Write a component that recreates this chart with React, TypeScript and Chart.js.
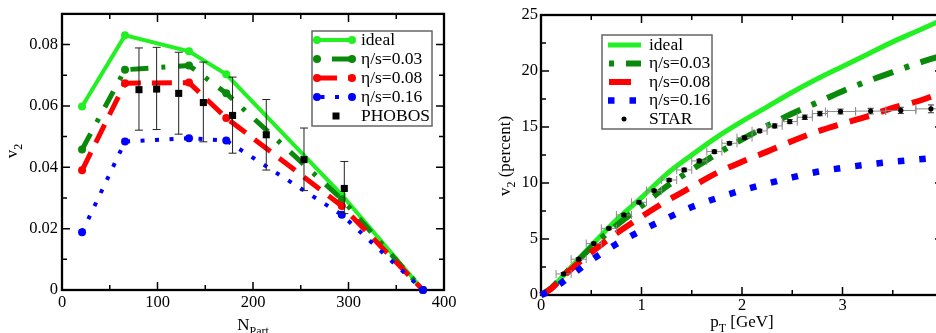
import React, { useEffect, useRef } from 'react';
import { Chart, registerables } from 'chart.js';

Chart.register(...registerables);

// ---------------- Left panel: v2 vs N_Part ----------------
const nPart = [21, 66, 133, 172, 293, 378];
const v2Ideal = [0.0598, 0.083, 0.0778, 0.0703, 0.031, 0];
const v2Eta003 = [0.0458, 0.0718, 0.0732, 0.0641, 0.0296, 0];
const v2Eta008 = [0.039, 0.0674, 0.0676, 0.0561, 0.0274, 0];
const v2Eta016 = [0.0188, 0.0484, 0.0495, 0.0487, 0.0245, 0];
const phobosN = [80.6, 99.1, 122.2, 148, 178.6, 213.9, 253.4, 295.6];
const phobosV2 = [0.0653, 0.0655, 0.0641, 0.0611, 0.0569, 0.0506, 0.0425, 0.0331];
const phobosHigh = [0.0789, 0.0791, 0.0775, 0.0743, 0.0694, 0.0621, 0.0528, 0.0419];
const phobosLow = [0.0521, 0.0523, 0.0508, 0.0483, 0.0446, 0.0391, 0.0324, 0.0249];
const leftLabels = ['ideal', 'η/s=0.03', 'η/s=0.08', 'η/s=0.16', 'PHOBOS'];

// ---------------- Right panel: v2 (percent) vs pT ----------------
const pT = [0, 0.1, 0.25, 0.5, 0.75, 1, 1.25, 1.5, 1.75, 2, 2.25, 2.5, 2.75, 3, 3.25, 3.5, 3.75, 4];
const v2pIdeal = [0, 0.6, 2.0, 4.4, 6.7, 8.7, 10.8, 12.5, 14.1, 15.5, 16.8, 18.1, 19.3, 20.4, 21.5, 22.6, 23.6, 24.6];
const v2pEta003 = [0, 0.6, 2.0, 4.25, 6.2, 7.95, 9.7, 11.2, 12.6, 13.9, 15.1, 16.2, 17.2, 18.2, 19.1, 19.9, 20.7, 21.4];
const v2pEta008 = [0, 0.55, 1.9, 3.8, 5.5, 7.0, 8.4, 9.65, 10.9, 11.9, 12.8, 13.75, 14.6, 15.3, 15.95, 16.7, 17.3, 18.1];
const v2pEta016 = [0, 0.4, 1.4, 3.1, 4.55, 5.75, 6.85, 7.85, 8.65, 9.35, 9.95, 10.5, 11.0, 11.35, 11.65, 11.9, 12.1, 12.3];
const starPt = [0.225, 0.375, 0.525, 0.675, 0.825, 0.975, 1.125, 1.275, 1.425, 1.575, 1.725, 1.875, 2.025, 2.175, 2.325, 2.475, 2.625, 2.775, 2.98, 3.28, 3.58, 3.88];
const starV2 = [1.88, 3.2, 4.6, 5.95, 7.15, 8.28, 9.32, 10.27, 11.17, 11.97, 12.8, 13.55, 14.05, 14.65, 15.1, 15.48, 15.87, 16.2, 16.38, 16.42, 16.48, 16.62];
const starPtErr = [0.075, 0.075, 0.075, 0.075, 0.075, 0.075, 0.075, 0.075, 0.075, 0.075, 0.075, 0.075, 0.075, 0.075, 0.075, 0.075, 0.075, 0.075, 0.15, 0.15, 0.15, 0.15];
const starV2Err = [0.12, 0.12, 0.12, 0.12, 0.12, 0.12, 0.12, 0.12, 0.15, 0.15, 0.15, 0.15, 0.15, 0.15, 0.18, 0.18, 0.2, 0.2, 0.22, 0.25, 0.28, 0.35];
const rightLabels = ['ideal', 'η/s=0.03', 'η/s=0.08', 'η/s=0.16', 'STAR'];

const FONT = '"Liberation Serif", serif';
const GREEN = '#22f022';
const DKGREEN = '#0a8a0a';
const RED = '#ff0000';
const BLUE = '#0000ff';

Chart.defaults.font.family = FONT;
Chart.defaults.font.size = 16;
Chart.defaults.color = '#000';

const pts = (xs: number[], ys: number[]) => xs.map((x, i) => ({ x, y: ys[i] }));

function frameTicksPlugin(id: string) {
  return {
    id,
    beforeDatasetsDraw(chart: any) {
      const { ctx, chartArea: a } = chart;
      const xs = chart.scales.x;
      const ys = chart.scales.y;
      ctx.save();
      ctx.strokeStyle = '#000';
      ctx.lineWidth = 1.5;
      ctx.beginPath();
      for (const t of xs.ticks) {
        const p = xs.getPixelForValue(t.value);
        if (p < a.left + 2 || p > a.right - 2) continue;
        const L = t.label !== '' ? 8 : 5;
        ctx.moveTo(p, a.bottom);
        ctx.lineTo(p, a.bottom - L);
        ctx.moveTo(p, a.top);
        ctx.lineTo(p, a.top + L);
      }
      for (const t of ys.ticks) {
        const p = ys.getPixelForValue(t.value);
        if (p < a.top + 2 || p > a.bottom - 2) continue;
        const L = t.label !== '' ? 8 : 5;
        ctx.moveTo(a.left, p);
        ctx.lineTo(a.left + L, p);
        ctx.moveTo(a.right, p);
        ctx.lineTo(a.right - L, p);
      }
      ctx.stroke();
      ctx.lineWidth = 2.3;
      ctx.strokeRect(a.left, a.top, a.right - a.left, a.bottom - a.top);
      ctx.restore();
    },
  };
}

type Part = { t: string; sub?: boolean };
function drawTitle(ctx: CanvasRenderingContext2D, parts: Part[], x: number, y: number, rotate: boolean) {
  ctx.save();
  ctx.translate(x, y);
  if (rotate) ctx.rotate(-Math.PI / 2);
  const big = `17px ${FONT}`;
  const small = `12px ${FONT}`;
  let w = 0;
  parts.forEach((p) => {
    ctx.font = p.sub ? small : big;
    w += ctx.measureText(p.t).width;
  });
  let cx = -w / 2;
  ctx.fillStyle = '#000';
  ctx.textAlign = 'left';
  ctx.textBaseline = 'alphabetic';
  parts.forEach((p) => {
    ctx.font = p.sub ? small : big;
    ctx.fillText(p.t, cx, p.sub ? 5 : 0);
    cx += ctx.measureText(p.t).width;
  });
  ctx.restore();
}

type LegItem = {
  text: string;
  color: string;
  width: number;
  dash: number[];
  offset: number;
  x0: number;
  x1: number;
  y: number;
  line: boolean;
  circles?: boolean;
  square?: number;
  dot?: number;
};

function drawLegend(ctx: CanvasRenderingContext2D, box: number[], items: LegItem[], textX: number) {
  ctx.save();
  ctx.fillStyle = '#fff';
  ctx.fillRect(box[0], box[1], box[2] - box[0], box[3] - box[1]);
  ctx.strokeStyle = '#666';
  ctx.lineWidth = 1.5;
  ctx.strokeRect(box[0], box[1], box[2] - box[0], box[3] - box[1]);
  for (const it of items) {
    if (it.line) {
      ctx.save();
      ctx.strokeStyle = it.color;
      ctx.lineWidth = it.width;
      ctx.lineCap = 'butt';
      ctx.setLineDash(it.dash);
      ctx.lineDashOffset = it.offset;
      ctx.beginPath();
      ctx.moveTo(it.x0, it.y);
      ctx.lineTo(it.x1, it.y);
      ctx.stroke();
      ctx.restore();
    }
    ctx.fillStyle = it.color;
    if (it.circles) {
      for (const cx of [it.x0, it.x1]) {
        ctx.beginPath();
        ctx.arc(cx, it.y, 4, 0, Math.PI * 2);
        ctx.fill();
      }
    }
    if (it.square !== undefined) {
      ctx.fillRect(it.square - 3.5, it.y - 3.5, 7, 7);
    }
    if (it.dot !== undefined) {
      ctx.beginPath();
      ctx.arc(it.dot, it.y, 2.5, 0, Math.PI * 2);
      ctx.fill();
    }
    ctx.fillStyle = '#000';
    ctx.font = `17.5px ${FONT}`;
    ctx.textAlign = 'left';
    ctx.textBaseline = 'middle';
    ctx.fillText(it.text, textX, it.y);
  }
  ctx.restore();
}

function lineDs(label: string, data: any[], color: string, width: number, dash: number[], order: number, radius: number, smooth: boolean) {
  return {
    type: 'line',
    label,
    data,
    borderColor: color,
    backgroundColor: color,
    borderWidth: width,
    borderDash: dash,
    borderCapStyle: 'butt',
    pointRadius: radius,
    pointHoverRadius: radius,
    pointBackgroundColor: color,
    pointBorderWidth: 0,
    pointStyle: 'circle',
    tension: 0,
    cubicInterpolationMode: smooth ? 'monotone' : 'default',
    fill: false,
    clip: false,
    order,
  };
}

function scaleOpts(min: number, max: number, step: number, isMajor: (v: number) => boolean, fmt: (v: number) => string, padding: number, fit: (s: any) => void) {
  return {
    type: 'linear',
    min,
    max,
    grid: { display: false, drawTicks: false },
    border: { display: false },
    ticks: {
      stepSize: step,
      autoSkip: false,
      maxRotation: 0,
      padding,
      color: '#000',
      font: { family: FONT, size: 16.5 },
      callback: (v: any) => (isMajor(Number(v)) ? fmt(Number(v)) : ''),
    },
    afterFit: fit,
  };
}

function leftConfig(): any {
  const phobosIdx = 4;
  return {
    type: 'line',
    data: {
      datasets: [
        lineDs(leftLabels[0], pts(nPart, v2Ideal), GREEN, 4, [], 5, 4, false),
        lineDs(leftLabels[1], pts(nPart, v2Eta003), DKGREEN, 5, [18, 13, 4, 13], 4, 4, false),
        lineDs(leftLabels[2], pts(nPart, v2Eta008), RED, 5, [20, 11], 3, 4, false),
        lineDs(leftLabels[3], pts(nPart, v2Eta016), BLUE, 4, [4, 10.5], 2, 4, false),
        {
          type: 'line',
          label: leftLabels[4],
          data: pts(phobosN, phobosV2),
          showLine: false,
          pointStyle: 'rect',
          pointRadius: 5,
          pointHoverRadius: 5,
          pointBackgroundColor: '#000',
          pointBorderWidth: 0,
          borderColor: '#000',
          backgroundColor: '#000',
          clip: false,
          order: 1,
        },
      ],
    },
    options: {
      responsive: false,
      maintainAspectRatio: false,
      animation: false,
      events: [],
      font: { family: FONT, size: 16 },
      layout: { padding: { left: 0, top: 11, right: 26, bottom: 0 } },
      plugins: { legend: { display: false }, tooltip: { enabled: false } },
      scales: {
        x: scaleOpts(0, 400, 50, (v) => Math.round(v) % 100 === 0, (v) => String(Math.round(v)), 3, (s: any) => {
          s.height = 43;
        }),
        y: scaleOpts(0, 0.09, 0.01, (v) => Math.round(v * 100) % 2 === 0, (v) => (Math.abs(v) < 1e-9 ? '0' : v.toFixed(2)), 4, (s: any) => {
          s.width = 62;
        }),
      },
    },
    plugins: [
      frameTicksPlugin('leftFrame'),
      {
        id: 'phobosErr',
        beforeDatasetDraw(chart: any, args: any) {
          if (args.index !== phobosIdx) return;
          const { ctx } = chart;
          const xs = chart.scales.x;
          const ys = chart.scales.y;
          ctx.save();
          ctx.strokeStyle = '#222';
          ctx.lineWidth = 1;
          ctx.beginPath();
          phobosN.forEach((n, i) => {
            const px = xs.getPixelForValue(n);
            const hi = ys.getPixelForValue(phobosHigh[i]);
            const lo = ys.getPixelForValue(phobosLow[i]);
            ctx.moveTo(px, hi);
            ctx.lineTo(px, lo);
            ctx.moveTo(px - 4, hi);
            ctx.lineTo(px + 4, hi);
            ctx.moveTo(px - 4, lo);
            ctx.lineTo(px + 4, lo);
          });
          ctx.stroke();
          ctx.restore();
        },
      },
      {
        id: 'leftDecor',
        afterDraw(chart: any) {
          const { ctx } = chart;
          drawTitle(ctx, [{ t: 'v' }, { t: '2', sub: true }], 17, 151, true);
          drawTitle(ctx, [{ t: 'N' }, { t: 'Part', sub: true }], 253, 330, false);
          const x0 = 317;
          const x1 = 352;
          drawLegend(
            ctx,
            [312, 31, 432, 126],
            [
              { text: leftLabels[0], color: GREEN, width: 4, dash: [], offset: 0, x0, x1, y: 40, line: true, circles: true },
              { text: leftLabels[1], color: DKGREEN, width: 5, dash: [18, 13, 4, 13], offset: 33, x0, x1, y: 59, line: true, circles: true },
              { text: leftLabels[2], color: RED, width: 5, dash: [20, 11], offset: 0, x0, x1, y: 78, line: true, circles: true },
              { text: leftLabels[3], color: BLUE, width: 4, dash: [4, 10.5], offset: 11, x0, x1, y: 97, line: true, circles: true },
              { text: leftLabels[4], color: '#000', width: 0, dash: [], offset: 0, x0, x1, y: 116, line: false, square: 336 },
            ],
            361
          );
        },
      },
    ],
  };
}

function rightConfig(): any {
  const starIdx = 4;
  return {
    type: 'line',
    data: {
      datasets: [
        lineDs(rightLabels[0], pts(pT, v2pIdeal), GREEN, 5, [], 5, 0, true),
        lineDs(rightLabels[1], pts(pT, v2pEta003), DKGREEN, 6, [21, 12, 5, 12], 4, 0, true),
        lineDs(rightLabels[2], pts(pT, v2pEta008), RED, 6, [20, 12.5], 3, 0, true),
        lineDs(rightLabels[3], pts(pT, v2pEta016), BLUE, 6.5, [6.5, 15], 2, 0, true),
        {
          type: 'line',
          label: rightLabels[4],
          data: pts(starPt, starV2),
          showLine: false,
          pointStyle: 'circle',
          pointRadius: 2.6,
          pointHoverRadius: 2.6,
          pointBackgroundColor: '#000',
          pointBorderWidth: 0,
          borderColor: '#000',
          backgroundColor: '#000',
          clip: false,
          order: 1,
        },
      ],
    },
    options: {
      responsive: false,
      maintainAspectRatio: false,
      animation: false,
      events: [],
      font: { family: FONT, size: 16 },
      layout: { padding: { left: 0, top: 15, right: 17, bottom: 0 } },
      plugins: { legend: { display: false }, tooltip: { enabled: false } },
      scales: {
        x: scaleOpts(0, 4, 0.5, (v) => Math.abs(v - Math.round(v)) < 1e-6, (v) => String(Math.round(v)), 1, (s: any) => {
          s.height = 38;
        }),
        y: scaleOpts(0, 25, 2.5, (v) => Math.abs(v / 5 - Math.round(v / 5)) < 1e-6, (v) => String(Math.round(v)), 3, (s: any) => {
          s.width = 71;
        }),
      },
    },
    plugins: [
      frameTicksPlugin('rightFrame'),
      {
        id: 'starErr',
        beforeDatasetDraw(chart: any, args: any) {
          if (args.index !== starIdx) return;
          const { ctx } = chart;
          const xs = chart.scales.x;
          const ys = chart.scales.y;
          ctx.save();
          ctx.lineWidth = 1;
          ctx.strokeStyle = '#8a8a8a';
          ctx.beginPath();
          starPt.forEach((p, i) => {
            const y = ys.getPixelForValue(starV2[i]);
            const l = xs.getPixelForValue(p - starPtErr[i]);
            const r = xs.getPixelForValue(p + starPtErr[i]);
            ctx.moveTo(l, y);
            ctx.lineTo(r, y);
            ctx.moveTo(l, y - 4);
            ctx.lineTo(l, y + 4);
            ctx.moveTo(r, y - 4);
            ctx.lineTo(r, y + 4);
          });
          ctx.stroke();
          ctx.strokeStyle = '#333';
          ctx.beginPath();
          starPt.forEach((p, i) => {
            const x = xs.getPixelForValue(p);
            const hi = ys.getPixelForValue(starV2[i] + starV2Err[i]);
            const lo = ys.getPixelForValue(starV2[i] - starV2Err[i]);
            ctx.moveTo(x, hi);
            ctx.lineTo(x, lo);
            ctx.moveTo(x - 3, hi);
            ctx.lineTo(x + 3, hi);
            ctx.moveTo(x - 3, lo);
            ctx.lineTo(x + 3, lo);
          });
          ctx.stroke();
          ctx.restore();
        },
      },
      {
        id: 'rightDecor',
        afterDraw(chart: any) {
          const { ctx } = chart;
          drawTitle(ctx, [{ t: 'v' }, { t: '2', sub: true }, { t: ' (percent)' }], 40, 156, true);
          drawTitle(ctx, [{ t: 'p' }, { t: 'T', sub: true }, { t: ' [GeV]' }], 272, 327, false);
          drawLegend(
            ctx,
            [132, 35, 242, 129],
            [
              { text: rightLabels[0], color: GREEN, width: 5, dash: [], offset: 0, x0: 138, x1: 171, y: 45, line: true },
              { text: rightLabels[1], color: DKGREEN, width: 6, dash: [21, 12, 5, 12], offset: 32, x0: 138, x1: 171, y: 63.5, line: true },
              { text: rightLabels[2], color: RED, width: 6, dash: [], offset: 0, x0: 139, x1: 161, y: 82, line: true },
              { text: rightLabels[3], color: BLUE, width: 6.5, dash: [6.5, 15], offset: 0, x0: 138, x1: 171, y: 100.5, line: true },
              { text: rightLabels[4], color: '#000', width: 0, dash: [], offset: 0, x0: 138, x1: 171, y: 119, line: false, dot: 154 },
            ],
            179
          );
        },
      },
    ],
  };
}

export default function App() {
  const leftRef = useRef<HTMLCanvasElement>(null);
  const rightRef = useRef<HTMLCanvasElement>(null);
  useEffect(() => {
    const c1 = new Chart(leftRef.current as HTMLCanvasElement, leftConfig());
    const c2 = new Chart(rightRef.current as HTMLCanvasElement, rightConfig());
    return () => {
      c1.destroy();
      c2.destroy();
    };
  }, []);
  return (
    <div style={{ position: 'absolute', left: 0, top: 0, width: 936, height: 333, overflow: 'hidden', background: '#fff' }}>
      <canvas ref={leftRef} width={470} height={333} style={{ position: 'absolute', left: 0, top: 0, width: 470, height: 333 }} />
      <canvas ref={rightRef} width={490} height={333} style={{ position: 'absolute', left: 470, top: 0, width: 490, height: 333 }} />
    </div>
  );
}
